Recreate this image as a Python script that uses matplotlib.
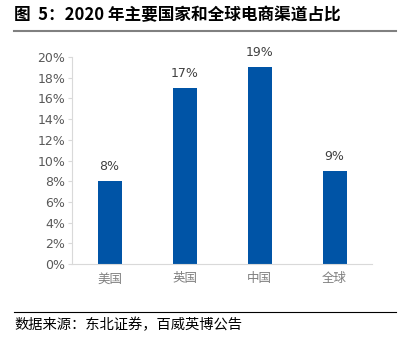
import matplotlib
matplotlib.use("Agg")
import matplotlib.pyplot as plt
from matplotlib.lines import Line2D

plt.rcParams['font.family'] = ['Noto Sans CJK SC', 'DejaVu Sans']

categories = ['美国', '英国', '中国', '全球']
values = [8, 17, 19, 9]
yticks = [0, 2, 4, 6, 8, 10, 12, 14, 16, 18, 20]
title = '图  5：2020 年主要国家和全球电商渠道占比'
source = '数据来源：东北证券，百威英博公告'

fig = plt.figure(figsize=(4.12, 3.4), dpi=100)
ax = fig.add_axes([0.175, 0.2235, 0.728, 0.6085])
x = range(len(categories))
ax.bar(x, values, width=0.32, color='#0054A6', zorder=2)
for xi, v in zip(x, values):
    ax.text(xi, v + 0.8, f'{v}%', ha='center', va='bottom', fontsize=9, color='#404040',
            family=['DejaVu Sans'])
ax.set_xlim(-0.5, 3.5)
ax.set_ylim(0, 20)
ax.set_yticks(yticks)
ax.set_yticklabels([f'{t}%' for t in yticks], fontsize=9, color='#595959', family=['DejaVu Sans'])
ax.set_xticks(list(x))
ax.set_xticklabels(categories, fontsize=9, color='#7F7F7F')
for s in ['top', 'right']:
    ax.spines[s].set_visible(False)
ax.spines['left'].set_color('#D9D9D9')
ax.spines['bottom'].set_color('#D9D9D9')
ax.tick_params(axis='y', length=3, color='#D9D9D9', pad=2)
ax.tick_params(axis='x', length=0, pad=6)

fig.text(0.034, 0.955, title, fontsize=12, fontweight='bold', va='center', ha='left')
fig.add_artist(Line2D([0.034, 0.961], [0.909, 0.909], color='#808080', lw=1.5, transform=fig.transFigure))
fig.add_artist(Line2D([0.034, 0.961], [0.082, 0.082], color='black', lw=0.8, transform=fig.transFigure))
fig.text(0.034, 0.045, source, fontsize=10.3, va='center', ha='left')

fig.savefig('out.png', dpi=100)
